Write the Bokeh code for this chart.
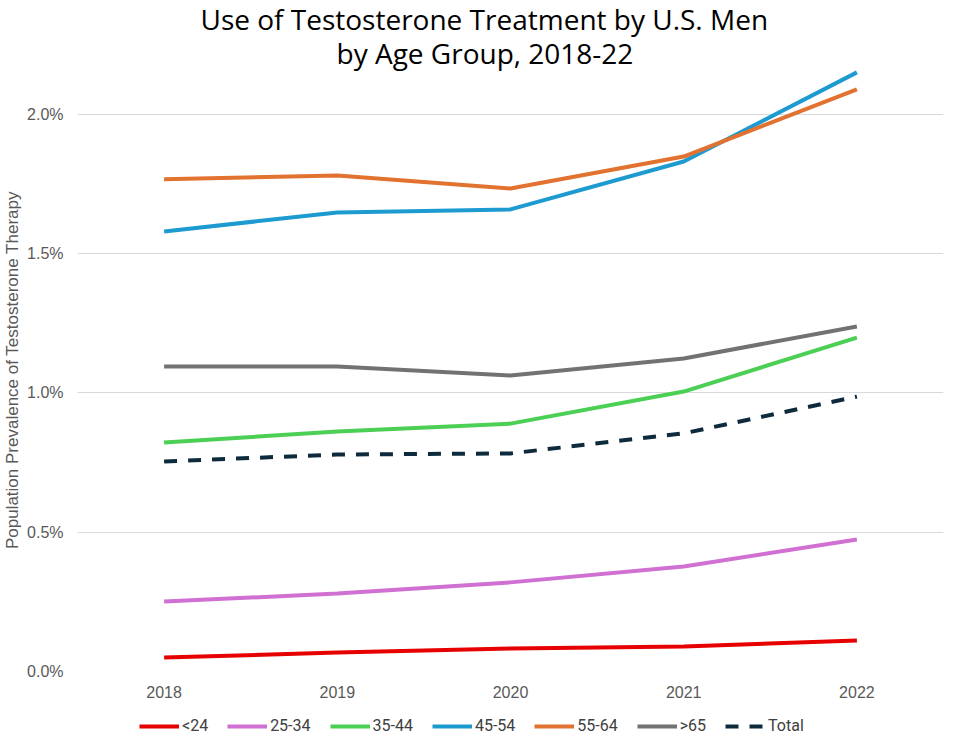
from bokeh.plotting import figure
from bokeh.layouts import column
from bokeh.models import Range1d, FixedTicker, PrintfTickFormatter, Legend, LegendItem, Title
from bokeh.embed import file_html
from bokeh.resources import INLINE

years = [2018, 2019, 2020, 2021, 2022]
s_lt24 = [0.050, 0.068, 0.083, 0.090, 0.111]
s_25_34 = [0.251, 0.280, 0.320, 0.377, 0.474]
s_35_44 = [0.822, 0.862, 0.890, 1.005, 1.199]
s_45_54 = [1.580, 1.648, 1.659, 1.831, 2.151]
s_55_64 = [1.767, 1.781, 1.734, 1.849, 2.090]
s_gt65 = [1.095, 1.095, 1.063, 1.124, 1.239]
s_total = [0.754, 0.779, 0.783, 0.855, 0.987]
y_ticks = [0.0, 0.5, 1.0, 1.5, 2.0]
title_lines = ["Use of Testosterone Treatment by U.S. Men", "by Age Group, 2018-22"]
title_offsets = [123, 259]

series = [
    ("<24", s_lt24, "#E60000", "solid"),
    ("25-34", s_25_34, "#D070D2", "solid"),
    ("35-44", s_35_44, "#4CCF55", "solid"),
    ("45-54", s_45_54, "#1D9BD1", "solid"),
    ("55-64", s_55_64, "#E2722F", "solid"),
    (">65", s_gt65, "#727272", "solid"),
    ("Total", s_total, "#0E2B3D", "13 11"),
]

p = figure(frame_width=866, frame_height=603, output_backend="svg", toolbar_location=None,
           title=None,
           x_range=Range1d(2017.5, 2022.5), y_range=Range1d(0, 2.165),
           min_border_left=72, min_border_right=2, min_border_top=0, min_border_bottom=32)
p.outline_line_color = None
p.background_fill_color = "white"

for name, vals, color, dash in series:
    p.line(years, vals, line_color=color, line_width=4, line_dash=dash, line_cap="butt")

p.xaxis.ticker = FixedTicker(ticks=years)
p.yaxis.ticker = FixedTicker(ticks=y_ticks)
p.yaxis.formatter = PrintfTickFormatter(format="%.1f%%")
for ax in (p.xaxis, p.yaxis):
    ax.axis_line_color = None
    ax.major_tick_line_color = None
    ax.minor_tick_line_color = None
    ax.major_label_text_color = "#595959"
    ax.major_label_text_font = "Liberation Sans"
    ax.major_label_text_font_size = "16px"
p.yaxis.major_label_standoff = 8
p.xaxis.major_label_standoff = 8
p.yaxis.axis_label = "Population Prevalence of Testosterone Therapy"
p.yaxis.axis_label_text_font = "Liberation Sans"
p.yaxis.axis_label_text_font_style = "normal"
p.yaxis.axis_label_text_font_size = "17px"
p.yaxis.axis_label_text_color = "#595959"
p.yaxis.axis_label_standoff = 2
p.xgrid.grid_line_color = None
p.ygrid.grid_line_color = "#D9D9D9"
p.ygrid.grid_line_width = 1

for t, off in reversed(list(zip(title_lines, title_offsets))):
    p.add_layout(Title(text=t, align="left", offset=off, text_font="Open Sans", text_font_size="28px",
                       text_font_style="normal", text_color="#000000", standoff=-6,
                       text_line_height=1.0), "above")

# legend strip (separate figure so the legend sits below the x-axis labels)
lg = figure(width=940, height=38, output_backend="svg", toolbar_location=None, title=None,
            x_range=Range1d(0, 1), y_range=Range1d(0, 1),
            x_axis_location=None, y_axis_location=None,
            min_border_left=0, min_border_right=0, min_border_top=0, min_border_bottom=0)
lg.grid.visible = False
lg.outline_line_color = None
nan = float("nan")
items = []
for name, vals, color, dash in series:
    r = lg.line([nan], [nan], line_color=color, line_width=4, line_dash=dash, line_cap="butt")
    items.append(LegendItem(label=name, renderers=[r]))

legend = Legend(items=items, orientation="horizontal", location=(62, 6))
legend.border_line_color = None
legend.background_fill_alpha = 0
legend.label_text_font = "Roboto"
legend.label_text_font_size = "16px"
legend.label_text_color = "#404040"
legend.glyph_width = 40
legend.glyph_height = 14
legend.spacing = 19
legend.label_standoff = 3
legend.padding = 0
legend.margin = 0
lg.add_layout(legend, "center")

open("out.html", "w").write(file_html(column(p, lg, spacing=0), INLINE))
